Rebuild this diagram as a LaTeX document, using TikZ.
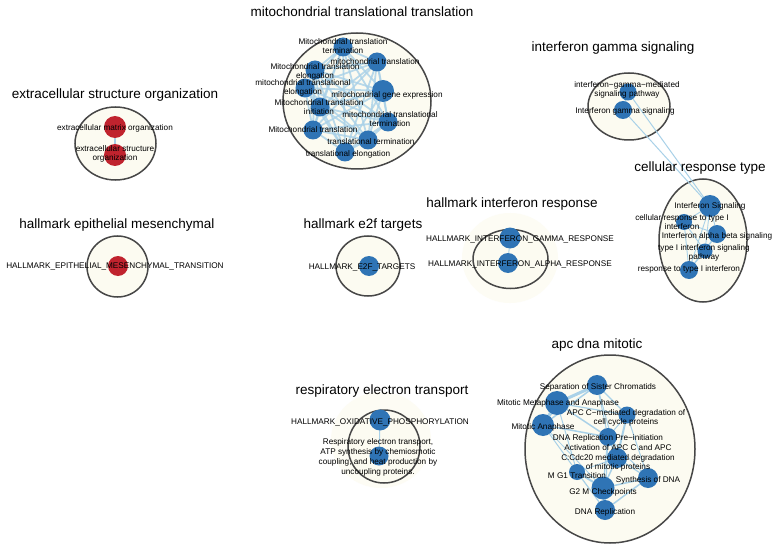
\documentclass[tikz,border=0pt]{standalone}
\usepackage{fontspec}
\setmainfont{Liberation Sans}
\definecolor{catAzulNodo}{HTML}{2F74B5}
\definecolor{catRojoNodo}{HTML}{C0232E}
\definecolor{catCeleste}{HTML}{A9D1E8}
\definecolor{catCrema}{HTML}{FCFBF1}
\colorlet{colGrupo}{black!72}
\colorlet{colArista}{catCeleste}
\pgfdeclarelayer{fondo}
\pgfdeclarelayer{aristas}
\pgfsetlayers{fondo,aristas,main}

\begin{document}
\begin{tikzpicture}[x=1pt, y=-1pt,
        grupo/.style={draw=colGrupo, fill=catCrema, line width=1.5pt},
        halo/.style={fill=catCrema!80},
        nodo/.style={circle, inner sep=0pt, minimum size=19pt},
        nodoAzul/.style={nodo, fill=catAzulNodo},
        nodoRojo/.style={nodo, fill=catRojoNodo},
        arista/.style={draw=colArista, line width=1pt, line cap=round},
        etiqueta/.style={font=\fontsize{8.2}{9.2}\selectfont, align=center, inner sep=0pt},
        titulo/.style={font=\fontsize{13.5}{15}\selectfont, inner sep=0pt}
    ]
        \useasboundingbox (0,0) rectangle (776,548);

        % grupos
        \begin{pgfonlayer}{fondo}
            \fill[white] (0,0) rectangle (776,548);
            \fill[halo] (510,258) ellipse [x radius=48, y radius=45];
            \fill[halo] (381,440) ellipse [x radius=50, y radius=48];
            \draw[grupo] (115.5,143.5) ellipse [x radius=40.5, y radius=36.5];
            \draw[grupo] (117.5,266.5) ellipse [x radius=30.5, y radius=30.5];
            \draw[grupo] (368,266) ellipse [x radius=32, y radius=30];
            \draw[grupo] (357,101) ellipse [x radius=74, y radius=68];
            \draw[grupo] (629,106.5) ellipse [x radius=41, y radius=33.5];
            \draw[grupo] (703,240.5) ellipse [x radius=44, y radius=61.5];
            \draw[grupo] (510.5,259) ellipse [x radius=37.5, y radius=29.5];
            \draw[grupo] (384,446.5) ellipse [x radius=36, y radius=36.5];
            \draw[grupo] (610,449) ellipse [x radius=85, y radius=94];
        \end{pgfonlayer}

        % titulos
        \node[titulo] (tExtra) at (115,95) {extracellular structure organization};
        \node[titulo] (tMito) at (362,12) {mitochondrial translational translation};
        \node[titulo] (tGamma) at (613,48) {interferon gamma signaling};
        \node[titulo] (tCelular) at (700,168) {cellular response type};
        \node[titulo] (tEpit) at (117,225) {hallmark epithelial mesenchymal};
        \node[titulo] (tEdos) at (363,225) {hallmark e2f targets};
        \node[titulo] (tRespIfn) at (512,204) {hallmark interferon response};
        \node[titulo] (tResp) at (382,391) {respiratory electron transport};
        \node[titulo] (tApc) at (597,345) {apc dna mitotic};

        % extracellular structure organization
        \node[nodoRojo, minimum size=22pt] (ex1) at (115,127) {};
        \node[nodoRojo, minimum size=22pt] (ex2) at (115,155) {};
        \node[etiqueta] at (115,128) {extracellular matrix organization};
        \node[etiqueta] at (115,154) {extracellular structure\\organization};

        % hallmark epithelial / e2f
        \node[nodoRojo, minimum size=20pt] (ep1) at (118,266) {};
        \node[etiqueta] at (115,266) {HALLMARK\_EPITHELIAL\_MESENCHYMAL\_TRANSITION};
        \node[nodoAzul, minimum size=20pt] (ed1) at (369,266) {};
        \node[etiqueta] at (362,267) {HALLMARK\_E2F\_TARGETS};

        % mitochondrial
        \node[nodoAzul] (mt1) at (343,47) {};
        \node[nodoAzul] (mt2) at (377,62) {};
        \node[nodoAzul] (mt3) at (315,70) {};
        \node[nodoAzul] (mt4) at (305,88) {};
        \node[nodoAzul, minimum size=22pt] (mt5) at (383,91) {};
        \node[nodoAzul] (mt6) at (320,107) {};
        \node[nodoAzul] (mt7) at (388,122) {};
        \node[nodoAzul] (mt8) at (313,130) {};
        \node[nodoAzul] (mt9) at (368,140) {};
        \node[nodoAzul] (mt10) at (345,152) {};
        \node[etiqueta] at (343,46) {Mitochondrial translation\\termination};
        \node[etiqueta] at (375,62) {mitochondrial translation};
        \node[etiqueta] at (315,72) {Mitochondrial translation\\elongation};
        \node[etiqueta] at (303,88) {mitochondrial translational\\elongation};
        \node[etiqueta] at (387,95) {mitochondrial gene expression};
        \node[etiqueta] at (319,107) {Mitochondrial translation\\initiation};
        \node[etiqueta] at (390,119) {mitochondrial translational\\termination};
        \node[etiqueta] at (313,130) {Mitochondrial translation};
        \node[etiqueta] at (371,142) {translational termination};
        \node[etiqueta] at (348,154) {translational elongation};

        % interferon gamma
        \node[nodoAzul, minimum size=17pt] (ig1) at (628,92) {};
        \node[nodoAzul, minimum size=18pt] (ig2) at (623,110) {};
        \node[etiqueta] at (627,90) {interferon−gamma−mediated\\signaling pathway};
        \node[etiqueta] at (625,111) {Interferon gamma signaling};

        % cellular response type
        \node[nodoAzul, minimum size=22pt] (cr1) at (710,206) {};
        \node[nodoAzul, minimum size=16pt] (cr2) at (684,222) {};
        \node[nodoAzul, minimum size=18pt] (cr3) at (717,234) {};
        \node[nodoAzul, minimum size=15pt] (cr4) at (705,251) {};
        \node[nodoAzul, minimum size=18pt] (cr5) at (689,270) {};
        \node[etiqueta] at (710,206) {Interferon Signaling};
        \node[etiqueta] at (682,222) {cellular response to type I\\interferon};
        \node[etiqueta] at (717,236) {Interferon alpha beta signaling};
        \node[etiqueta] at (704,253) {type I interferon signaling\\pathway};
        \node[etiqueta] at (689,269) {response to type I interferon};

        % hallmark interferon response
        \node[nodoAzul, minimum size=21pt] (hr1) at (510,238) {};
        \node[nodoAzul, minimum size=20pt] (hr2) at (508,263) {};
        \node[etiqueta] at (520,239) {HALLMARK\_INTERFERON\_GAMMA\_RESPONSE};
        \node[etiqueta] at (520,264) {HALLMARK\_INTERFERON\_ALPHA\_RESPONSE};

        % respiratory electron transport
        \node[nodoAzul, minimum size=21pt] (re1) at (380,420) {};
        \node[nodoAzul, minimum size=19pt] (re2) at (379,456) {};
        \node[etiqueta] at (380,422) {HALLMARK\_OXIDATIVE\_PHOSPHORYLATION};
        \node[etiqueta, font=\fontsize{8.2}{10}\selectfont] at (378,457) {Respiratory electron transport,\\ATP synthesis by chemiosmotic\\coupling, and heat production by\\uncoupling proteins.};

        % apc dna mitotic
        \node[nodoAzul, minimum size=20pt] (sep) at (597,385) {};
        \node[nodoAzul, minimum size=24pt] (meta) at (557,403) {};
        \node[nodoAzul, minimum size=17pt] (apcc) at (627,415) {};
        \node[nodoAzul, minimum size=22pt] (ana) at (543,425) {};
        \node[nodoAzul, minimum size=18pt] (pre) at (608,437) {};
        \node[nodoAzul, minimum size=20pt] (act) at (617,458) {};
        \node[nodoAzul, minimum size=16pt] (mgu) at (577,472) {};
        \node[nodoAzul, minimum size=20pt] (syn) at (648,478) {};
        \node[nodoAzul, minimum size=23pt] (gdm) at (603,488) {};
        \node[nodoAzul, minimum size=20pt] (dnar) at (605,510) {};
        \node[etiqueta] at (598,387) {Separation of Sister Chromatids};
        \node[etiqueta] at (558,403) {Mitotic Metaphase and Anaphase};
        \node[etiqueta] at (626,418) {APC C−mediated degradation of\\cell cycle proteins};
        \node[etiqueta] at (543,427) {Mitotic Anaphase};
        \node[etiqueta] at (608,438) {DNA Replication Pre−initiation};
        \node[etiqueta] at (618,458) {Activation of APC C and APC\\C:Cdc20 mediated degradation\\of mitotic proteins};
        \node[etiqueta] at (577,476) {M G1 Transition};
        \node[etiqueta] at (648,480) {Synthesis of DNA};
        \node[etiqueta] at (603,492) {G2 M Checkpoints};
        \node[etiqueta] at (605,512) {DNA Replication};

        % aristas
        \begin{pgfonlayer}{aristas}
            \draw[arista, line width=2pt] (ex1) -- (ex2);
            \draw[arista] (hr1) -- (hr2);
            \draw[arista] (re1) -- (re2);
            \draw[arista, line width=1.5pt] (ig1) -- (ig2);
            \draw[arista] (ig1) -- (cr1);
            \draw[arista] (ig2) -- (cr1);
            \foreach \i in {1,...,10}{
                \foreach \j in {1,...,10}{
                    \ifnum\i<\j \draw[arista, line width=1.8pt, opacity=0.8] (mt\i) -- (mt\j);\fi
                }
            }
            \foreach \i in {1,...,5}{
                \foreach \j in {1,...,5}{
                    \ifnum\i<\j \draw[arista, line width=0.9pt] (cr\i) -- (cr\j);\fi
                }
            }
            \foreach \a/\b/\w in {sep/meta/3, meta/ana/3.5, gdm/dnar/3, sep/apcc/1.2, sep/act/1,
                sep/pre/1, sep/ana/1.5, meta/apcc/1.2, meta/pre/1.5, meta/mgu/1, ana/pre/1.5,
                ana/mgu/1, ana/gdm/0.8, apcc/pre/1, apcc/act/2, apcc/syn/1, pre/act/1.5,
                pre/gdm/1.2, pre/syn/1, act/gdm/1.5, act/mgu/1, act/syn/1.2, mgu/gdm/2,
                mgu/dnar/1.2, syn/dnar/1.5, syn/gdm/1.5, pre/dnar/1}
                \draw[arista, line width=\w pt] (\a) -- (\b);
        \end{pgfonlayer}
    \end{tikzpicture}
\end{document}
